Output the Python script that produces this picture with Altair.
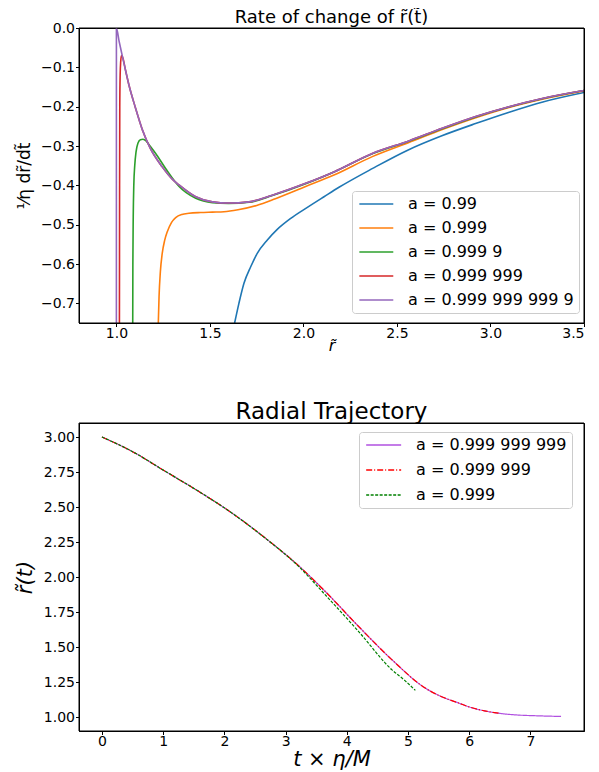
import altair as alt
import pandas as pd

# ---------------- top panel data ----------------
top_labels = ["a = 0.99", "a = 0.999", "a = 0.999 9", "a = 0.999 999", "a = 0.999 999 999 9"]
top_colors = ["#1f77b4", "#ff7f0e", "#2ca02c", "#d62728", "#9467bd"]

r_a0 = [1.632, 1.655, 1.682, 1.718, 1.753, 1.807, 1.860, 1.932, 2.021, 2.110, 2.19, 2.37, 2.56, 2.74, 2.92, 3.10, 3.28, 3.50]
v_a0 = [-0.75, -0.700, -0.649, -0.607, -0.573, -0.539, -0.512, -0.484, -0.456, -0.429, -0.405, -0.357, -0.31, -0.274, -0.243, -0.214, -0.188, -0.164]

r_a1 = [1.2215, 1.224, 1.228, 1.235, 1.245, 1.258, 1.272, 1.295, 1.317, 1.35, 1.388, 1.45, 1.513, 1.575, 1.65, 1.75, 1.85, 2.012, 2.163, 2.368, 2.564, 2.742, 2.921, 3.099, 3.277, 3.50]
v_a1 = [-0.80, -0.75, -0.683, -0.62, -0.573, -0.54, -0.518, -0.494, -0.482, -0.474, -0.471, -0.469, -0.468, -0.467, -0.462, -0.451, -0.434, -0.403, -0.374, -0.327, -0.291, -0.258, -0.228, -0.202, -0.181, -0.160]

r_a2 = [1.087, 1.088, 1.090, 1.093, 1.098, 1.105, 1.115, 1.128, 1.142, 1.16, 1.18, 1.21, 1.263, 1.335, 1.424, 1.513, 1.60, 1.709, 1.834, 2.012, 2.163, 2.368, 2.564, 2.742, 2.921, 3.099, 3.277, 3.50]
v_a2 = [-0.80, -0.60, -0.48, -0.40, -0.35, -0.315, -0.293, -0.284, -0.283, -0.288, -0.300, -0.319, -0.357, -0.403, -0.433, -0.444, -0.446, -0.443, -0.426, -0.396, -0.366, -0.320, -0.288, -0.256, -0.226, -0.201, -0.180, -0.159]

r_a3 = [1.016, 1.017, 1.018, 1.020, 1.023, 1.027, 1.032, 1.05, 1.067, 1.10, 1.139, 1.18, 1.245, 1.30, 1.335, 1.424, 1.513, 1.60, 1.709, 1.834, 2.012, 2.163, 2.368, 2.564, 2.742, 2.921, 3.099, 3.277, 3.50]
v_a3 = [-0.80, -0.40, -0.20, -0.12, -0.085, -0.070, -0.073, -0.11, -0.145, -0.20, -0.259, -0.305, -0.353, -0.385, -0.399, -0.429, -0.442, -0.445, -0.442, -0.425, -0.395, -0.366, -0.319, -0.287, -0.255, -0.225, -0.200, -0.179, -0.159]

r_a4 = [0.9999, 1.0, 1.015, 1.032, 1.05, 1.067, 1.10, 1.139, 1.18, 1.245, 1.30, 1.335, 1.424, 1.513, 1.60, 1.709, 1.834, 2.012, 2.163, 2.368, 2.564, 2.742, 2.921, 3.099, 3.277, 3.50]
v_a4 = [-0.80, 0.0, -0.035, -0.072, -0.11, -0.145, -0.20, -0.259, -0.305, -0.353, -0.385, -0.399, -0.429, -0.442, -0.445, -0.442, -0.425, -0.395, -0.366, -0.319, -0.287, -0.255, -0.225, -0.200, -0.179, -0.159]

top_x = [r_a0, r_a1, r_a2, r_a3, r_a4]
top_y = [v_a0, v_a1, v_a2, v_a3, v_a4]

top_xticks = [1.0, 1.5, 2.0, 2.5, 3.0, 3.5]
top_yticks = [0.0, -0.1, -0.2, -0.3, -0.4, -0.5, -0.6, -0.7]

# ---------------- bottom panel data ----------------
bot_labels = ["a = 0.999 999 999", "a = 0.999 999", "a = 0.999"]
bot_colors = ["#b050e0", "#ff0000", "#008000"]
bot_dashes = [[1, 0], [6, 2, 1, 2], [3, 1.5]]

t_p = [0, 0.48, 1.026, 1.571, 2.116, 2.663, 3.208, 3.645, 4.19, 4.735, 5.28, 5.55, 5.826, 6.0, 6.25, 6.535, 6.8, 7.08, 7.5]
y_p = [3.0, 2.90, 2.757, 2.614, 2.459, 2.28, 2.082, 1.898, 1.648, 1.41, 1.207, 1.145, 1.10, 1.072, 1.044, 1.024, 1.014, 1.009, 1.004]

t_r = [0, 0.48, 1.026, 1.571, 2.116, 2.663, 3.208, 3.645, 4.19, 4.735, 5.28, 5.55, 5.826, 6.0, 6.25, 6.5]
y_r = [3.0, 2.90, 2.757, 2.614, 2.459, 2.28, 2.082, 1.898, 1.648, 1.41, 1.207, 1.145, 1.10, 1.072, 1.044, 1.026]

t_g = [0, 0.48, 1.026, 1.571, 2.116, 2.663, 3.208, 3.645, 4.19, 4.735, 4.95, 5.12]
y_g = [3.0, 2.90, 2.757, 2.614, 2.459, 2.279, 2.078, 1.874, 1.612, 1.338, 1.26, 1.19]

bot_x = [t_p, t_r, t_g]
bot_y = [y_p, y_r, y_g]

bot_xticks = [0, 1, 2, 3, 4, 5, 6, 7]
bot_yticks = [1.0, 1.25, 1.5, 1.75, 2.0, 2.25, 2.5, 2.75, 3.0]

# ---------------- frames ----------------
rows = []
for lab, xs, ys in zip(top_labels, top_x, top_y):
    for i, (x, y) in enumerate(zip(xs, ys)):
        rows.append({"series": lab, "r": x, "v": y, "i": i})
top_df = pd.DataFrame(rows)

rows = []
for lab, xs, ys in zip(bot_labels, bot_x, bot_y):
    for i, (x, y) in enumerate(zip(xs, ys)):
        rows.append({"series": lab, "t": x, "r": y, "i": i})
bot_df = pd.DataFrame(rows)

FONT = "DejaVu Sans"

axis_common = dict(
    domainColor="black", tickColor="black", labelColor="black",
    labelFont=FONT, labelFontSize=14, tickSize=3.5,
    grid=False, titleFont=FONT, titleColor="black", titleFontWeight="normal",
)


def frame_layer():
    # plot-area border (matplotlib spines on all four sides)
    return alt.Chart(pd.DataFrame({"k": [0]})).mark_rect(
        fillOpacity=0, stroke="black", strokeWidth=1
    ).encode(x=alt.value(0), x2=alt.value("width"), y=alt.value(0), y2=alt.value("height"))


top_leg = alt.Legend(
    title=None, orient="none", legendX=273, legendY=163,
    symbolType="M-1,0H5", symbolSize=128, symbolStrokeWidth=1.6,
    labelFont=FONT, labelFontSize=16, labelColor="black", labelOffset=35,
    rowPadding=8, padding=5, strokeColor="#cccccc", fillColor="white",
    cornerRadius=3, labelLimit=300,
)
top_color = alt.Color("series:N", scale=alt.Scale(domain=top_labels, range=top_colors), legend=top_leg)

top_base = alt.Chart(top_df).mark_line(strokeWidth=1.6, clip=True, interpolate="monotone").encode(
    x=alt.X("r:Q", scale=alt.Scale(domain=[0.8, 3.5], nice=False, zero=False),
            axis=alt.Axis(values=top_xticks, format=".1f", title="r\u0303", labelPadding=0,
                          titleFontSize=16, titleFontStyle="italic", titlePadding=-3, **axis_common)),
    y=alt.Y("v:Q", scale=alt.Scale(domain=[-0.75, 0.0], nice=False, zero=False),
            axis=alt.Axis(values=top_yticks, format=".1f", title="\u00b9\u2044\u03b7 dr\u0303/dt\u0303",
                          labelPadding=1, titleFontSize=17, titlePadding=7, **axis_common)),
    color=top_color,
    order=alt.Order("i:Q"),
)

top_layers = [top_base.transform_filter(alt.datum.series == lab) for lab in top_labels]
top = alt.layer(*top_layers, frame_layer()).properties(
    width=505, height=295,
    title=alt.TitleParams("Rate of change of r\u0303(t\u0303)", fontSize=18, font=FONT,
                          fontWeight="normal", anchor="middle", offset=-6,
                          color="black"),
)

leg_bot = dict(
    title=None, orient="none", legendX=280, legendY=9,
    symbolType="M-1,0H5", symbolSize=136, symbolStrokeWidth=1.3,
    labelFont=FONT, labelFontSize=16, labelColor="black", labelOffset=36,
    rowPadding=9, padding=5, strokeColor="#cccccc", fillColor="white",
    cornerRadius=3, labelLimit=300,
)
bot_color = alt.Color("series:N", scale=alt.Scale(domain=bot_labels, range=bot_colors),
                      legend=alt.Legend(**leg_bot))
bot_dash = alt.StrokeDash("series:N", scale=alt.Scale(domain=bot_labels, range=bot_dashes),
                          legend=alt.Legend(**leg_bot))

bot_base = alt.Chart(bot_df).mark_line(strokeWidth=1.2, clip=True, interpolate="monotone").encode(
    x=alt.X("t:Q", scale=alt.Scale(domain=[-0.375, 7.875], nice=False, zero=False),
            axis=alt.Axis(values=bot_xticks, format="d", title="t \u00d7 \u03b7/M", labelPadding=0,
                          titleFontSize=21, titleFontStyle="italic", titlePadding=0, **axis_common)),
    y=alt.Y("r:Q", scale=alt.Scale(domain=[0.9, 3.1], nice=False, zero=False),
            axis=alt.Axis(values=bot_yticks, format=".2f", title="r\u0303(t)", labelPadding=1,
                          titleFontSize=21, titleFontStyle="italic", titlePadding=8, **axis_common)),
    color=bot_color,
    strokeDash=bot_dash,
    order=alt.Order("i:Q"),
)

bot_layers = [bot_base.transform_filter(alt.datum.series == lab) for lab in bot_labels]
bottom = alt.layer(*bot_layers, frame_layer()).properties(
    width=505, height=308,
    title=alt.TitleParams("Radial Trajectory", fontSize=23, font=FONT,
                          fontWeight="normal", anchor="middle", offset=-1,
                          color="black"),
)

chart = alt.vconcat(top, bottom, spacing=46).resolve_scale(
    color="independent", strokeDash="independent"
).resolve_legend(
    color="independent", strokeDash="independent"
).configure_view(
    stroke="black", strokeWidth=1
).properties(
    background="white",
    padding={"top": 0, "left": 5, "right": 5, "bottom": 0},
)

chart.save("out.html", embed_options={"renderer": "svg", "actions": False})
